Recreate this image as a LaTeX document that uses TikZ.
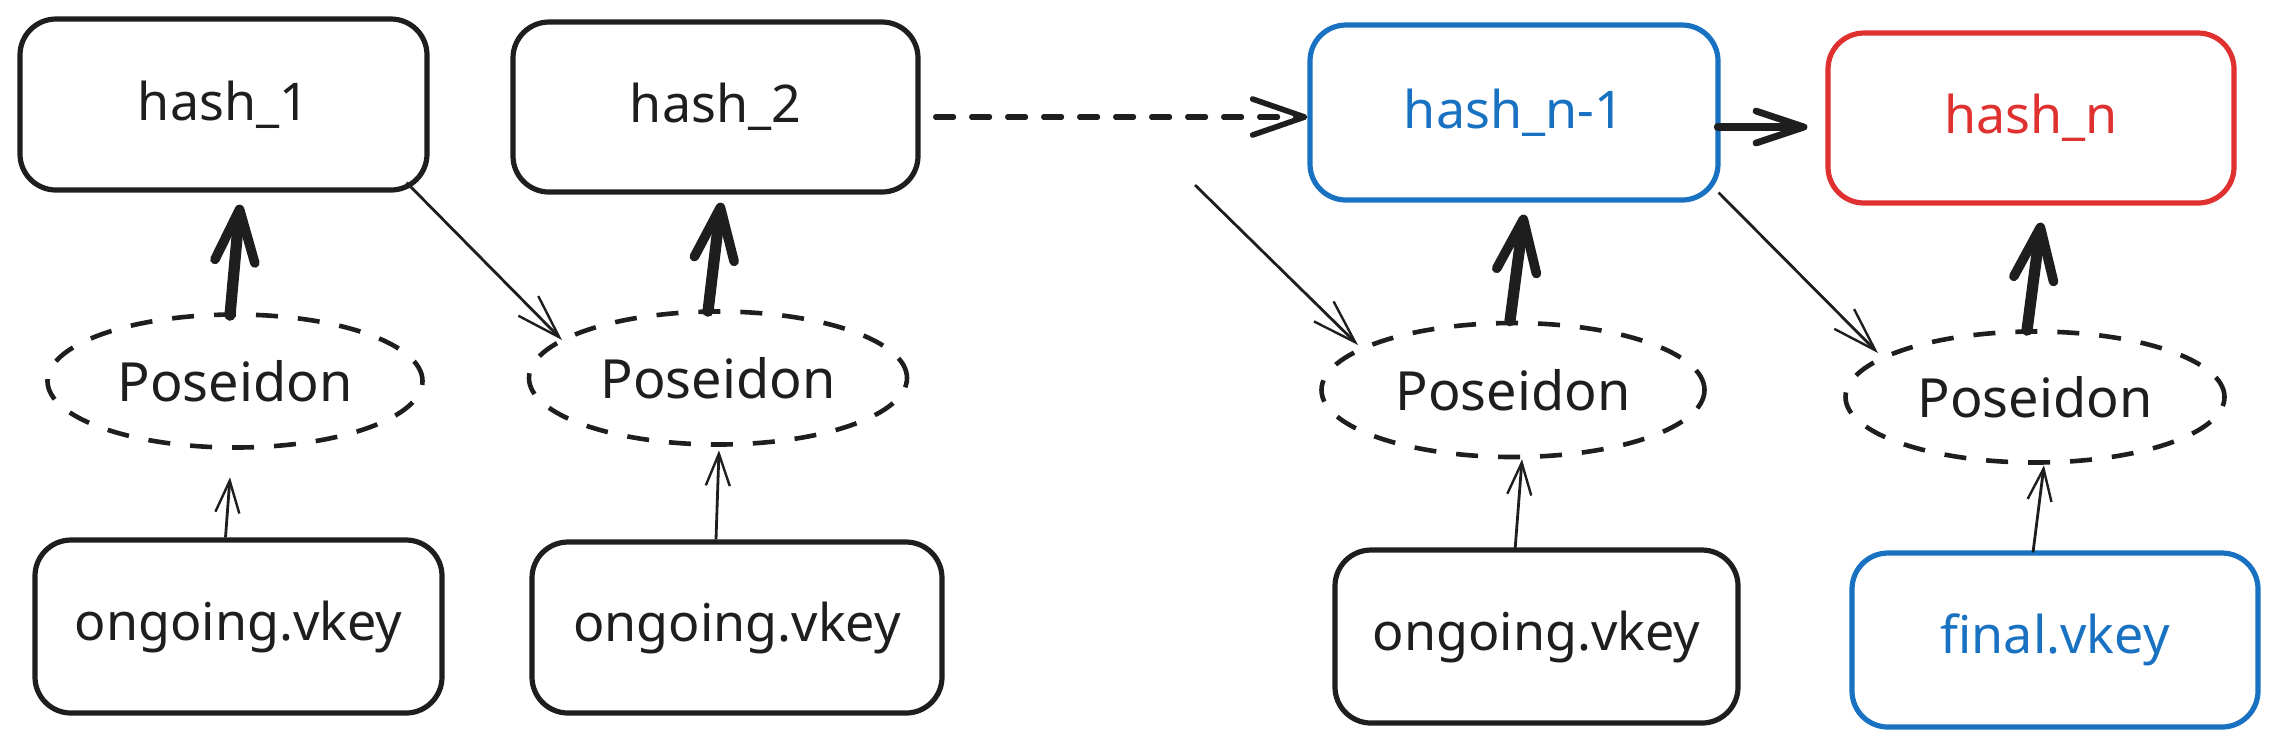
\documentclass[tikz,border=0pt]{standalone}
\usepackage{fontspec}
\setmainfont{Noto Sans}
\usetikzlibrary{shapes.geometric,arrows.meta,calc}
\definecolor{ink}{HTML}{1E1E1E}
\definecolor{exblue}{HTML}{1971C2}
\definecolor{exred}{HTML}{E03131}
\begin{document}
\begin{tikzpicture}[x=0.25pt,y=-0.25pt,
  hashbox/.style={draw=ink,line width=1.3pt,rounded corners=9pt,inner sep=0pt,
    font=\fontsize{13}{15}\selectfont,text=ink},
  poseidon/.style={ellipse,draw=ink,line width=1.15pt,dash pattern=on 5.5pt off 5pt,
    inner sep=0pt,font=\fontsize{13.5}{15}\selectfont,text=ink},
  heavy/.style={draw=ink,line width=2.8pt,line cap=round,
    -{Straight Barb[length=13pt,width=10pt,line width=2.4pt,round]}},
  feed/.style={draw=ink,line width=0.7pt,-{Straight Barb[length=8pt,width=6pt,line width=0.6pt]}},
  link/.style={draw=ink,line width=0.7pt,-{Straight Barb[length=11pt,width=7pt,line width=0.6pt]}},
  chain/.style={draw=ink,line width=1.3pt,dash pattern=on 4.5pt off 4.5pt,line cap=round,
    -{Straight Barb[length=13pt,width=9pt,line width=1.4pt,round]}},
  nextarr/.style={draw=ink,line width=1.9pt,line cap=round,
    -{Straight Barb[length=12pt,width=8pt,line width=1.7pt,round]}}
]
\useasboundingbox (0,0) rectangle (2271,743);
% top row
\node[hashbox,minimum width=101.75pt,minimum height=42.75pt] (h1) at (223.5,104.5) {hash\_1};
\node[hashbox,minimum width=101.25pt,minimum height=42.5pt] (h2) at (715.5,107) {hash\_2};
\node[hashbox,draw=exblue,text=exblue,minimum width=102pt,minimum height=43.75pt] (hn1) at (1514,112.5) {hash\_n-1};
\node[hashbox,draw=exred,text=exred,minimum width=101.5pt,minimum height=42.5pt] (hn) at (2031,118) {hash\_n};
% poseidon row
\node[poseidon,minimum width=93.75pt,minimum height=33.25pt] (p1) at (235,381) {Poseidon};
\node[poseidon,minimum width=94.5pt,minimum height=33.25pt] (p2) at (718,378) {Poseidon};
\node[poseidon,minimum width=95.75pt,minimum height=33.5pt] (p3) at (1513,390) {Poseidon};
\node[poseidon,minimum width=94.75pt,minimum height=32.75pt] (p4) at (2035,397) {Poseidon};
% bottom row
\node[hashbox,minimum width=101.75pt,minimum height=43.25pt] (o1) at (238.5,626.5) {ongoing.vkey};
\node[hashbox,minimum width=102.5pt,minimum height=42.75pt] (o2) at (737,627.5) {ongoing.vkey};
\node[hashbox,minimum width=100.75pt,minimum height=43.25pt] (o3) at (1536.5,636.5) {ongoing.vkey};
\node[hashbox,draw=exblue,text=exblue,minimum width=101.5pt,minimum height=43.5pt] (fv) at (2055,640) {final.vkey};
\coordinate (free) at (1195,185);
% heavy arrows
\draw[heavy] ($(p1.north)+(-5,3)$) -- ($(h1.south)+(16.5,12)$);
\draw[heavy] ($(p2.north)+(-10,2)$) -- ($(h2.south)+(5.5,8)$);
\draw[heavy] ($(p3.north)+(-3,0)$) -- ($(hn1.south)+(10,12)$);
\draw[heavy] ($(p4.north)+(-8,1)$) -- ($(hn.south)+(10,17)$);
% feeds
\draw[feed] ($(o1.north)+(-13,0)$) -- ($(p1.south)+(-5,27.5)$);
\draw[feed] ($(o2.north)+(-21,0)$) -- ($(p2.south)+(1,3.5)$);
\draw[feed] ($(o3.north)+(-21.5,3)$) -- ($(p3.south)+(9,0)$);
\draw[feed] ($(fv.north)+(-22,2)$) -- ($(p4.south)+(9,0.5)$);
% diagonal links
\draw[link] ($(h1.south east)+(-23,-10)$) -- ($(p2.center)+(-156,-38)$);
\draw[link] (free) -- ($(p3.center)+(-155,-45)$);
\draw[link] ($(hn1.south east)+(-2,-10)$) -- ($(p4.center)+(-157,-44)$);
% chain arrows
\draw[chain] ($(h2.east)+(15,10)$) -- ($(hn1.west)+(0,4.5)$);
\draw[nextarr] ($(hn1.east)+(-3,14.5)$) -- ($(hn.west)+(-18,9)$);
\end{tikzpicture}
\end{document}
